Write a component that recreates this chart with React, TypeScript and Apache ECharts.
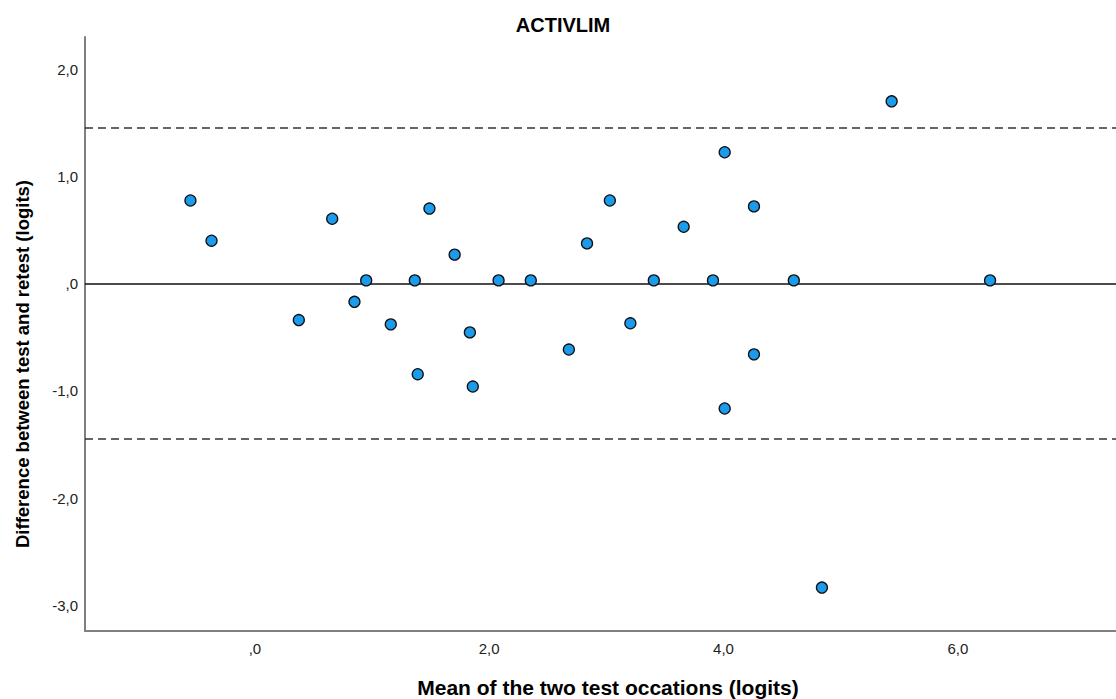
import React, { useEffect, useRef } from "react";
import * as echarts from "echarts";

const meanValues = [
  -0.55, -0.37, 0.375, 0.66, 0.85, 0.95, 1.16, 1.365, 1.39, 1.49,
  1.705, 1.835, 1.86, 2.08, 2.355, 2.68, 2.835, 3.03, 3.205, 3.405,
  3.66, 3.91, 4.01, 4.01, 4.26, 4.26, 4.6, 5.435, 4.84, 6.275,
];
const diffValues = [
  0.775, 0.4, -0.34, 0.605, -0.17, 0.03, -0.38, 0.03, -0.845, 0.7,
  0.27, -0.455, -0.96, 0.03, 0.03, -0.615, 0.375, 0.775, -0.37, 0.03,
  0.53, 0.03, 1.225, -1.165, 0.72, -0.66, 0.03, 1.7, -2.835, 0.03,
];
const xTicks = [0, 2, 4, 6];
const yTicks = [-3, -2, -1, 0, 1, 2];
const meanLine = 0;
const upperLimit = 1.45;
const lowerLimit = -1.445;

const titleText = "ACTIVLIM";
const xTitle = "Mean of the two test occations (logits)";
const yTitle = "Difference between test and retest (logits)";

const fmt = (v: number) => {
  if (v === 0) return ",0";
  return v.toFixed(1).replace(".", ",");
};

export default function App() {
  const ref = useRef<HTMLDivElement>(null);
  useEffect(() => {
    if (!ref.current) return;
    const chart = echarts.init(ref.current, null, { renderer: "svg" });
    const font = "'Liberation Sans', Arial, sans-serif";
    chart.setOption({
      animation: false,
      backgroundColor: "#ffffff",
      textStyle: { fontFamily: font },
      grid: { left: 85, top: 37, right: 0, bottom: 68, containLabel: false },
      xAxis: {
        type: "value",
        min: -1.45,
        max: 7.35,
        splitLine: { show: false },
        axisLine: { show: true, onZero: false, lineStyle: { color: "#808080", width: 2 } },
        axisTick: { show: false },
        axisLabel: {
          customValues: xTicks,
          formatter: (v: number) => fmt(v),
          color: "#222",
          fontSize: 15,
          fontFamily: font,
          margin: 10,
        },
      },
      yAxis: {
        type: "value",
        min: -3.24,
        max: 2.3,
        splitLine: { show: false },
        axisLine: { show: true, onZero: false, lineStyle: { color: "#808080", width: 2 } },
        axisTick: { show: false },
        axisLabel: {
          customValues: yTicks,
          formatter: (v: number) => fmt(v),
          color: "#222",
          fontSize: 15,
          fontFamily: font,
          margin: 7,
        },
      },
      graphic: [
        {
          type: "text",
          x: 563,
          y: 25,
          style: {
            text: titleText,
            align: "center",
            verticalAlign: "middle",
            font: `bold 20px ${font}`,
            fill: "#000",
          },
        },
        {
          type: "text",
          x: 608,
          y: 687,
          style: {
            text: xTitle,
            align: "center",
            verticalAlign: "middle",
            font: `bold 21px ${font}`,
            fill: "#000",
          },
        },
        {
          type: "text",
          x: 22,
          y: 364,
          rotation: Math.PI / 2,
          style: {
            text: yTitle,
            align: "center",
            verticalAlign: "middle",
            font: `bold 18.5px ${font}`,
            fill: "#000",
          },
        },
      ],
      series: [
        {
          type: "scatter",
          symbol: "circle",
          symbolSize: 11,
          data: meanValues.map((x, i) => [x, diffValues[i]]),
          itemStyle: { color: "#1b9bec", borderColor: "#111", borderWidth: 1.3, opacity: 1 },
          z: 5,
          markLine: {
            silent: true,
            symbol: "none",
            label: { show: false },
            data: [
              { yAxis: meanLine, lineStyle: { type: "solid", color: "#111", width: 1.6 } },
              { yAxis: upperLimit, lineStyle: { type: [8, 5], color: "#333", width: 1.6 } },
              { yAxis: lowerLimit, lineStyle: { type: [8, 5], color: "#333", width: 1.6 } },
            ],
          },
        },
      ],
    });
    return () => chart.dispose();
  }, []);
  return (
    <div
      ref={ref}
      style={{ position: "absolute", left: 0, top: 0, width: 1116, height: 699 }}
    />
  );
}
